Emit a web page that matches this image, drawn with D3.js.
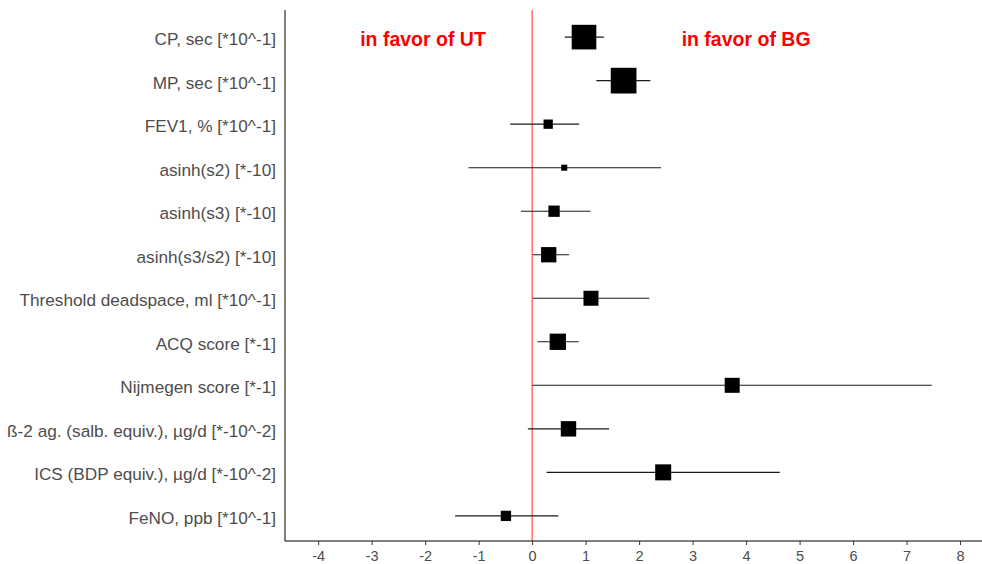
<!DOCTYPE html>
<html>
<head>
<meta charset="utf-8">
<script src="https://cdnjs.cloudflare.com/ajax/libs/d3/7.8.5/d3.min.js"></script>
<style>
  body { margin: 0; background: #fff; }
  svg { font-family: "Liberation Sans", Arial, sans-serif; }
</style>
</head>
<body>
<svg id="main-svg" width="982" height="564"></svg>
<script>
const labels = [
  "CP, sec [*10^-1]",
  "MP, sec [*10^-1]",
  "FEV1, % [*10^-1]",
  "asinh(s2) [*-10]",
  "asinh(s3) [*-10]",
  "asinh(s3/s2) [*-10]",
  "Threshold deadspace, ml [*10^-1]",
  "ACQ score [*-1]",
  "Nijmegen score [*-1]",
  "ß-2 ag. (salb. equiv.), µg/d [*-10^-2]",
  "ICS (BDP equiv.), µg/d [*-10^-2]",
  "FeNO, ppb [*10^-1]"
];
const estimate = [0.97, 1.71, 0.30, 0.60, 0.41, 0.31, 1.10, 0.48, 3.74, 0.68, 2.45, -0.49];
const lower    = [0.61, 1.20, -0.41, -1.19, -0.21, 0.01, 0.01, 0.10, 0.00, -0.08, 0.27, -1.44];
const upper    = [1.34, 2.21, 0.88, 2.41, 1.09, 0.69, 2.19, 0.87, 7.47, 1.44, 4.63, 0.49];
const weight   = [91.6, 100, 13.1, 5.5, 19.3, 35.4, 34.1, 40.2, 34.1, 35.9, 38.8, 16.1];
const xTicks = [-4, -3, -2, -1, 0, 1, 2, 3, 4, 5, 6, 7, 8];
const notes = [
  { text: "in favor of UT", x: -2.04 },
  { text: "in favor of BG", x: 4.0 }
];

const data = labels.map((l, i) => ({
  label: l, est: estimate[i], lo: lower[i], hi: upper[i], w: weight[i]
}));

const svg = d3.select("#main-svg");
const mLeft = 285, mRight = 982, mTop = 10, mBottom = 541;

const x = d3.scaleLinear().domain([-4.62, 8.41]).range([mLeft, mRight]);
const y = d3.scalePoint().domain(labels).range([mTop, mBottom]).padding(0.6);
const size = d3.scaleSqrt().domain([0, 100]).range([0, 25.7]);

// zero line
svg.append("line")
  .attr("x1", x(0)).attr("x2", x(0))
  .attr("y1", mTop).attr("y2", mBottom)
  .attr("stroke", "#ff3b3b").attr("stroke-width", 1.1);

// error bars
svg.append("g").selectAll("line").data(data).join("line")
  .attr("x1", d => x(d.lo)).attr("x2", d => x(d.hi))
  .attr("y1", d => y(d.label) + 1).attr("y2", d => y(d.label) + 1)
  .attr("stroke", "#1a1a1a").attr("stroke-width", 1.1);

// squares
svg.append("g").selectAll("rect").data(data).join("rect")
  .attr("x", d => x(d.est) - size(d.w) / 2)
  .attr("y", d => y(d.label) + 1 - size(d.w) / 2)
  .attr("width", d => size(d.w))
  .attr("height", d => size(d.w))
  .attr("fill", "#000");

// annotations
svg.append("g").selectAll("text").data(notes).join("text")
  .attr("x", d => x(d.x)).attr("y", y(labels[0]) + 3)
  .attr("dy", "0.36em")
  .attr("text-anchor", "middle")
  .attr("fill", "#ff0000")
  .attr("font-weight", "bold")
  .attr("font-size", 19.5)
  .text(d => d.text);

// y axis
const yAxis = svg.append("g")
  .attr("transform", `translate(${mLeft},0)`)
  .call(d3.axisLeft(y).tickSize(0).tickPadding(9));
yAxis.select(".domain").attr("stroke", "#000").attr("d", `M0,${mTop}V${mBottom}`);
yAxis.selectAll("text").attr("fill", "#4d4d4d").attr("font-size", 17.2).attr("dy", "0.5em");

// x axis
const xAxis = svg.append("g")
  .attr("transform", `translate(0,${mBottom})`)
  .call(d3.axisBottom(x).tickValues(xTicks).tickSize(4).tickPadding(6).tickFormat(d => String(d)));
xAxis.select(".domain").attr("stroke", "#000").attr("d", `M${mLeft},0H${mRight}`);
xAxis.selectAll(".tick line").attr("stroke", "#333");
xAxis.selectAll("text").attr("fill", "#4d4d4d").attr("font-size", 14.5);
</script>
</body>
</html>
